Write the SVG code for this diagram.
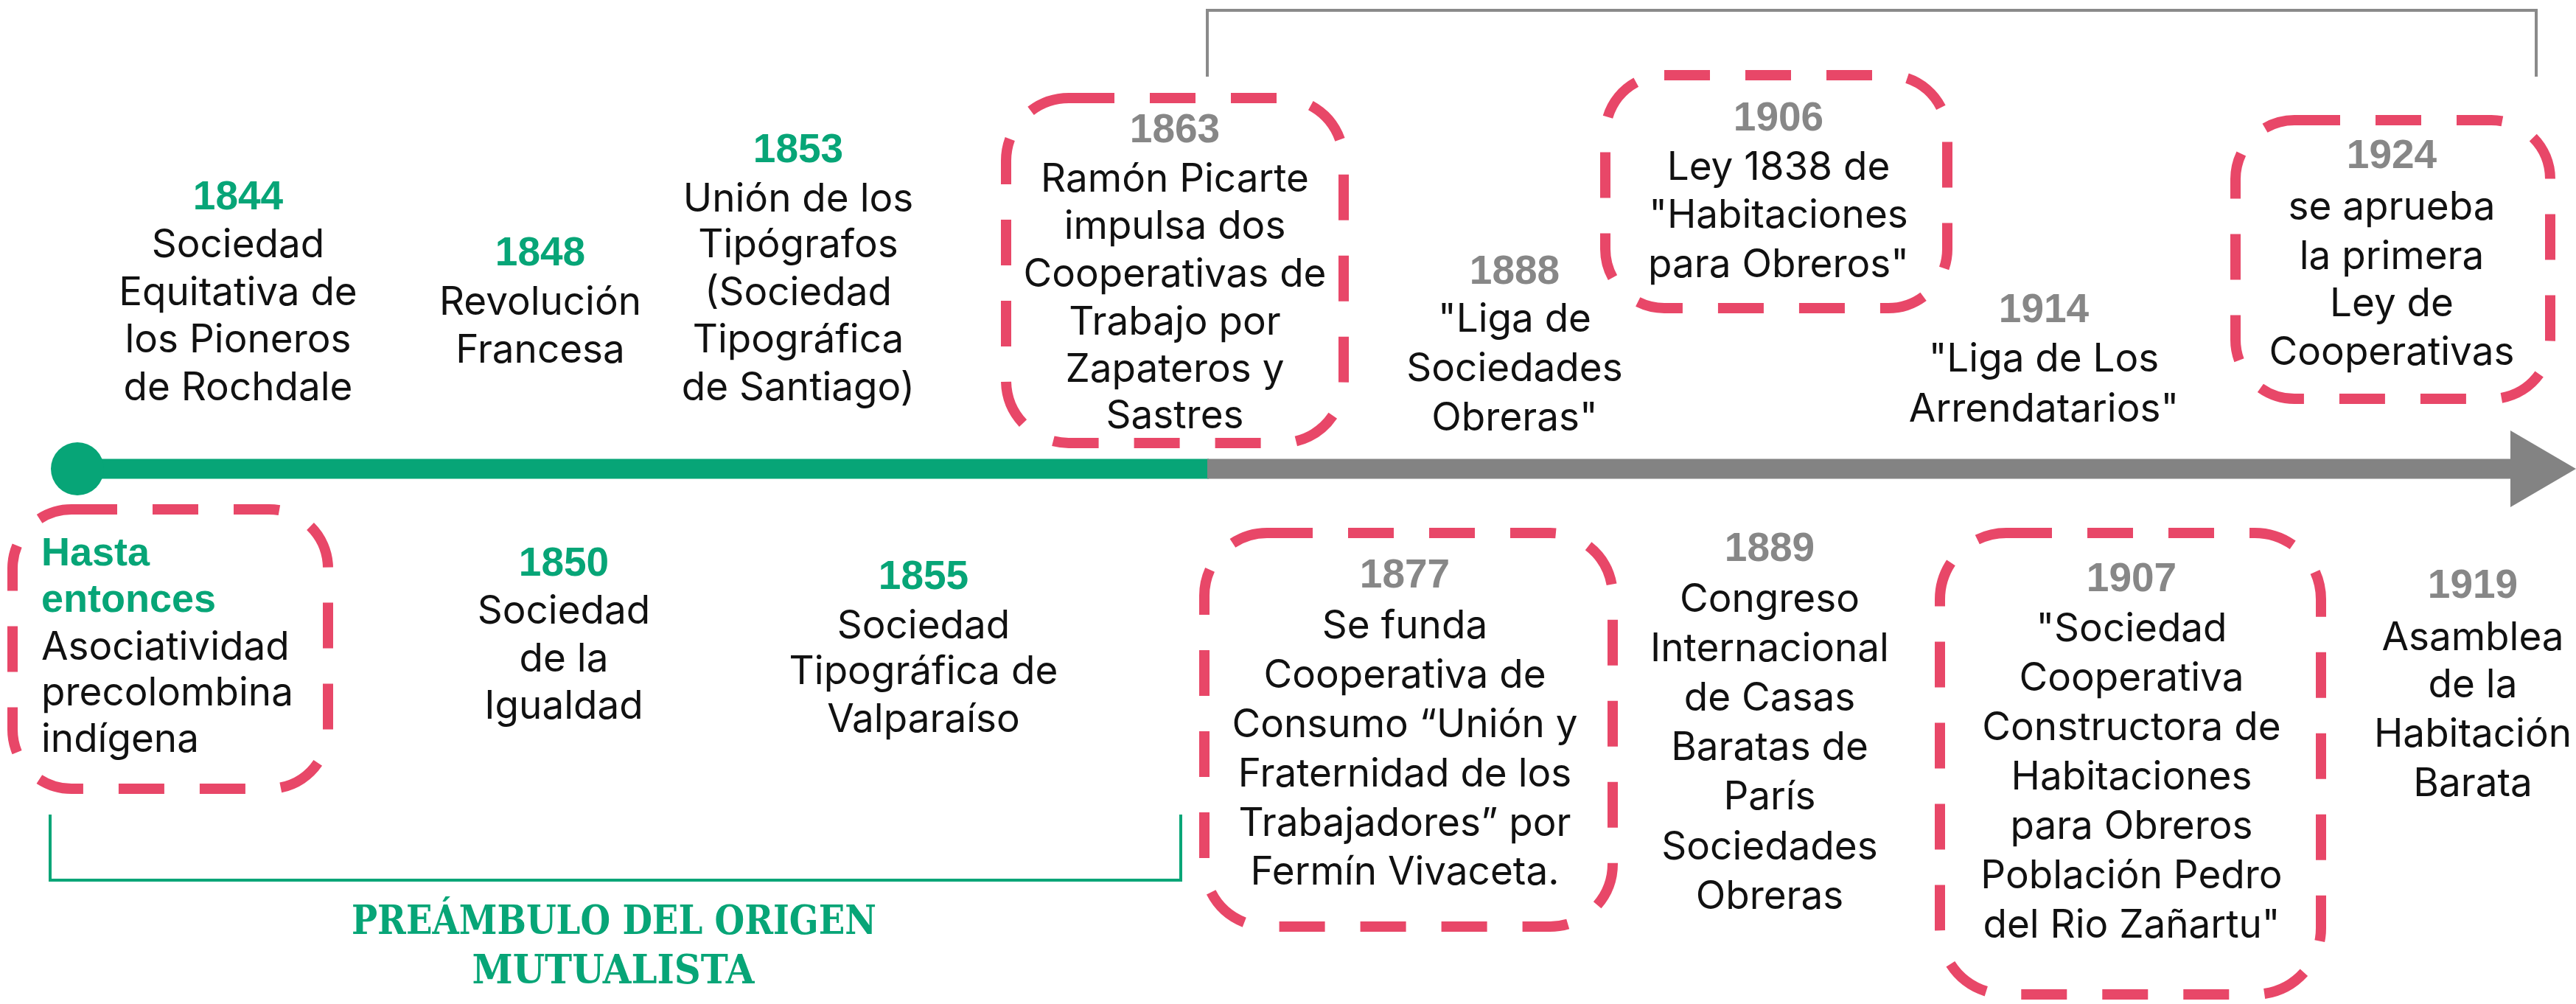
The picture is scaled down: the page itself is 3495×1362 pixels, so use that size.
<svg xmlns="http://www.w3.org/2000/svg" width="3495" height="1362" viewBox="0 0 3495 1362">
<style>
.t{font-family:Inter,"Open Sans",sans-serif;font-size:53px;fill:#111;text-anchor:middle}
.tl{font-family:Inter,"Open Sans",sans-serif;font-size:53px;fill:#111}
.yg{font-family:"Liberation Sans",Arial,sans-serif;font-weight:bold;font-size:55px;fill:#07a577;text-anchor:middle}
.yk{font-family:"Liberation Sans",Arial,sans-serif;font-weight:bold;font-size:55px;fill:#878787;text-anchor:middle}
.hg{font-family:"Liberation Sans",Arial,sans-serif;font-weight:bold;font-size:54px;fill:#07a577}
.box{fill:none;stroke:#e84768;stroke-width:14;stroke-dasharray:62 48}
.slab{font-family:"DejaVu Serif Condensed","DejaVu Serif",serif;font-weight:bold;font-size:55px;fill:#07a577;text-anchor:middle}
</style>
<rect width="3495" height="1362" fill="#fff"/>
<g id="connectors">
  <line x1="105" y1="636" x2="1640" y2="636" stroke="#07a577" stroke-width="27"/>
  <circle cx="105" cy="636" r="36" fill="#07a577"/>
  <line x1="1638" y1="636" x2="3410" y2="636" stroke="#838383" stroke-width="27"/>
  <polygon points="3406,584 3495,636 3406,688" fill="#838383"/>
  <polyline points="1638,104 1638,14 3441,14 3441,104" fill="none" stroke="#8a8a8a" stroke-width="4"/>
  <polyline points="68,1105 68,1194 1602,1194 1602,1105" fill="none" stroke="#07a577" stroke-width="4"/>
</g>
<g id="n1844">
  <text class="yg" x="323" y="284">1844</text>
  <text class="t" x="323" y="349">Sociedad</text>
  <text class="t" x="323" y="414">Equitativa de</text>
  <text class="t" x="323" y="478">los Pioneros</text>
  <text class="t" x="323" y="543">de Rochdale</text>
</g>
<g id="n1848">
  <text class="yg" x="733" y="360">1848</text>
  <text class="t" x="733" y="427">Revolución</text>
  <text class="t" x="733" y="492">Francesa</text>
</g>
<g id="n1853">
  <text class="yg" x="1083" y="220">1853</text>
  <text class="t" x="1083" y="287">Unión de los</text>
  <text class="t" x="1083" y="349">Tipógrafos</text>
  <text class="t" x="1083" y="414">(Sociedad</text>
  <text class="t" x="1083" y="478">Tipográfica</text>
  <text class="t" x="1083" y="543">de Santiago)</text>
</g>
<g id="n1863">
  <rect class="box" x="1365" y="133" width="458" height="468" rx="85"/>
  <text class="yk" x="1594" y="193">1863</text>
  <text class="t" x="1594" y="260">Ramón Picarte</text>
  <text class="t" x="1594" y="324">impulsa dos</text>
  <text class="t" x="1594" y="389">Cooperativas de</text>
  <text class="t" x="1594" y="454">Trabajo por</text>
  <text class="t" x="1594" y="518">Zapateros y</text>
  <text class="t" x="1594" y="581">Sastres</text>
</g>
<g id="n1888">
  <text class="yk" x="2055" y="385">1888</text>
  <text class="t" x="2055" y="450">"Liga de</text>
  <text class="t" x="2055" y="517">Sociedades</text>
  <text class="t" x="2055" y="584">Obreras"</text>
</g>
<g id="n1906">
  <rect class="box" x="2178" y="102" width="464" height="316" rx="80"/>
  <text class="yk" x="2413" y="177">1906</text>
  <text class="t" x="2413" y="244">Ley 1838 de</text>
  <text class="t" x="2413" y="309">"Habitaciones</text>
  <text class="t" x="2413" y="376">para Obreros"</text>
</g>
<g id="n1914">
  <text class="yk" x="2773" y="437">1914</text>
  <text class="t" x="2773" y="504">"Liga de Los</text>
  <text class="t" x="2773" y="572">Arrendatarios"</text>
</g>
<g id="n1924">
  <rect class="box" x="3033" y="163" width="427" height="378" rx="80"/>
  <text class="yk" x="3245" y="228">1924</text>
  <text class="t" x="3245" y="298">se aprueba</text>
  <text class="t" x="3245" y="365">la primera</text>
  <text class="t" x="3245" y="429">Ley de</text>
  <text class="t" x="3245" y="495">Cooperativas</text>
</g>
<g id="nHasta">
  <rect class="box" x="17" y="691" width="428" height="379" rx="80"/>
  <text class="hg" x="56" y="767">Hasta</text>
  <text class="hg" x="56" y="830">entonces</text>
  <text class="tl" x="56" y="895">Asociatividad</text>
  <text class="tl" x="56" y="957">precolombina</text>
  <text class="tl" x="56" y="1020">indígena</text>
</g>
<g id="n1850">
  <text class="yg" x="765" y="781">1850</text>
  <text class="t" x="765" y="846">Sociedad</text>
  <text class="t" x="765" y="911">de la</text>
  <text class="t" x="765" y="975">Igualdad</text>
</g>
<g id="n1855">
  <text class="yg" x="1253" y="799">1855</text>
  <text class="t" x="1253" y="866">Sociedad</text>
  <text class="t" x="1253" y="928">Tipográfica de</text>
  <text class="t" x="1253" y="993">Valparaíso</text>
</g>
<g id="n1877">
  <rect class="box" x="1634" y="723" width="554" height="534" rx="85"/>
  <text class="yk" x="1906" y="797">1877</text>
  <text class="t" x="1906" y="866">Se funda</text>
  <text class="t" x="1906" y="933">Cooperativa de</text>
  <text class="t" x="1906" y="1000">Consumo “Unión y</text>
  <text class="t" x="1906" y="1067">Fraternidad de los</text>
  <text class="t" x="1906" y="1134">Trabajadores” por</text>
  <text class="t" x="1906" y="1200">Fermín Vivaceta.</text>
</g>
<g id="n1889">
  <text class="yk" x="2401" y="761">1889</text>
  <text class="t" x="2401" y="830">Congreso</text>
  <text class="t" x="2401" y="897">Internacional</text>
  <text class="t" x="2401" y="964">de Casas</text>
  <text class="t" x="2401" y="1031">Baratas de</text>
  <text class="t" x="2401" y="1098">París</text>
  <text class="t" x="2401" y="1166">Sociedades</text>
  <text class="t" x="2401" y="1233">Obreras</text>
</g>
<g id="n1907">
  <rect class="box" x="2632" y="723" width="517" height="626" rx="90"/>
  <text class="yk" x="2892" y="802">1907</text>
  <text class="t" x="2892" y="870">"Sociedad</text>
  <text class="t" x="2892" y="937">Cooperativa</text>
  <text class="t" x="2892" y="1004">Constructora de</text>
  <text class="t" x="2892" y="1071">Habitaciones</text>
  <text class="t" x="2892" y="1138">para Obreros</text>
  <text class="t" x="2892" y="1205">Población Pedro</text>
  <text class="t" x="2892" y="1272">del Rio Zañartu"</text>
</g>
<g id="n1919">
  <text class="yk" x="3355" y="811">1919</text>
  <text class="t" x="3355" y="882">Asamblea</text>
  <text class="t" x="3355" y="946">de la</text>
  <text class="t" x="3355" y="1013">Habitación</text>
  <text class="t" x="3355" y="1080">Barata</text>
</g>
<g id="preambulo">
  <text class="slab" x="833" y="1267" textLength="712" lengthAdjust="spacingAndGlyphs">PREÁMBULO DEL ORIGEN</text>
  <text class="slab" x="832" y="1334" textLength="383" lengthAdjust="spacingAndGlyphs">MUTUALISTA</text>
</g>
</svg>
